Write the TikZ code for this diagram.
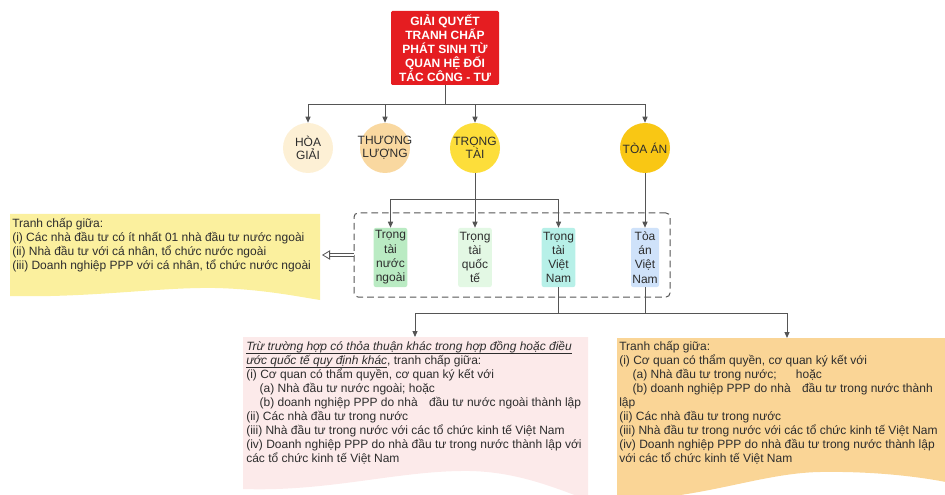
\documentclass[tikz,border=0pt]{standalone}
\usepackage{fontspec}
\setmainfont{Liberation Sans}
\usetikzlibrary{arrows.meta}
\definecolor{rootred}{RGB}{229,29,33}
\definecolor{hoacol}{RGB}{253,240,213}
\definecolor{thuongcol}{RGB}{249,216,160}
\definecolor{trongcol}{RGB}{253,222,58}
\definecolor{toacol}{RGB}{249,199,20}
\definecolor{tnncol}{RGB}{186,235,195}
\definecolor{tqtcol}{RGB}{227,248,228}
\definecolor{tvncol}{RGB}{183,240,232}
\definecolor{tavncol}{RGB}{207,226,250}
\definecolor{ydoccol}{RGB}{251,240,158}
\definecolor{pdoccol}{RGB}{252,234,234}
\definecolor{odoccol}{RGB}{250,213,150}
\definecolor{linecol}{RGB}{85,85,85}
\definecolor{txtcol}{RGB}{45,45,45}
\newcommand{\ulit}[1]{\setbox0\hbox{\textit{#1}}\rlap{\rule[-2.3pt]{\wd0}{0.5pt}}\box0}
\tikzset{
    conn/.style={draw=linecol, line width=0.75pt},
    arr/.style={conn, -{Triangle[length=4.5pt,width=3.8pt]}},
    dblarr/.style={draw=linecol, line width=0.6pt, double=white, double distance=1.6pt, -{Triangle[open,fill=white,length=6pt,width=7pt]}},
    rootbox/.style={rectangle, rounded corners=1pt, fill=rootred, text=white, align=center, inner sep=0pt, minimum width=81pt, minimum height=55.5pt, font=\bfseries\fontsize{9}{10.4}\selectfont},
    circ/.style={circle, minimum size=37.5pt, inner sep=0pt},
    clbl/.style={align=center, inner sep=0pt, font=\fontsize{9}{10}\selectfont, text=txtcol},
    tbox/.style={rectangle, rounded corners=1.5pt, inner sep=1pt, minimum height=44.25pt, align=center, font=\fontsize{9}{10.7}\selectfont, text=txtcol},
    grpbox/.style={draw=linecol, line width=0.75pt, dash pattern=on 5pt off 3pt, rounded corners=3pt, minimum width=237pt, minimum height=63pt, inner sep=0pt},
    doctext/.style={anchor=north west, align=left, inner sep=0pt, font=\fontsize{9}{10.5}\selectfont, text=txtcol},
}
\begin{document}
\begin{tikzpicture}[x=0.75pt,y=0.75pt,yscale=-1,xscale=1]
    \useasboundingbox (0,0) rectangle (945,495);
    \clip (0,0) rectangle (945,495);
    \fill[ydoccol] (10,214) -- (320,214) -- (320,300) .. controls (295,296) and (260,289) .. (215,288) .. controls (160,287) and (90,298) .. (10,296) -- cycle ;
    \fill[pdoccol] (243,337) -- (588,337) -- (588,500) .. controls (560,490) and (520,472) .. (470,471) .. controls (400,470) and (330,492) .. (243,489) -- cycle ;
    \fill[odoccol] (617,338) -- (960,338) -- (960,485) .. controls (930,478) and (880,471) .. (820,472) .. controls (760,473) and (700,500) .. (617,500) -- cycle ;
    \node[rootbox] (root) at (445,48) {GIẢI QUYẾT\\TRANH CHẤP\\PHÁT SINH TỪ\\QUAN HỆ ĐỐI\\TÁC CÔNG - TƯ};
    \node[circ, fill=hoacol, label={[clbl]center:HÒA\\GIẢI}] (hoa) at (308,148) {};
    \node[circ, fill=thuongcol, label={[clbl]center:THƯƠNG\\LƯỢNG}] (thuong) at (385,148) {};
    \node[circ, fill=trongcol, label={[clbl]center:TRỌNG\\TÀI}] (trong) at (475,148) {};
    \node[circ, fill=toacol, label={[clbl]center:TÒA ÁN}] (toa) at (645,148) {};
    \node[grpbox] (grp) at (512,255) {};
    \node[tbox, fill=tnncol] (tnn) at (390.5,257.5) {Trọng\\tài\\nước\\ngoài};
    \node[tbox, fill=tqtcol] (tqt) at (475,257.5) {Trọng\\tài\\quốc\\tế};
    \node[tbox, fill=tvncol] (tvn) at (558.5,257.5) {Trọng\\tài\\Việt\\Nam};
    \node[tbox, fill=tavncol] (tavn) at (645,257.5) {Tòa\\án\\Việt\\Nam};
    \coordinate (bus1) at (445,105);
    \coordinate (bus2) at (475,200);
    \coordinate (bus3) at (558.5,313);
    \coordinate (ydocR) at (322,255);
    \coordinate (pdocT) at (415,337);
    \coordinate (odocT) at (787,338);
    \draw[conn] (root) -- (bus1);
    \draw[arr] (bus1) -| (hoa);
    \draw[arr] (bus1) -| (thuong);
    \draw[arr] (bus1) -| (trong);
    \draw[arr] (bus1) -| (toa);
    \draw[conn] (trong) -- (bus2);
    \draw[arr] (bus2) -| (tnn);
    \draw[arr] (bus2) -- (tqt);
    \draw[arr] (bus2) -| (tvn);
    \draw[arr] (toa) -- (tavn);
    \draw[dblarr] (grp.west |- ydocR) -- (ydocR);
    \draw[conn] (tvn) -- (bus3);
    \draw[conn] (tavn) -- (tavn |- bus3);
    \draw[arr] (bus3) -| (pdocT);
    \draw[arr] (bus3) -| (odocT);
    \node[doctext] (ytext) at (12,218.5) {Tranh chấp giữa:\\(i) Các nhà đầu tư có ít nhất 01 nhà đầu tư nước ngoài\\(ii) Nhà đầu tư với cá nhân, tổ chức nước ngoài\\(iii) Doanh nghiệp PPP với cá nhân, tổ chức nước ngoài};
    \node[doctext] (ptext) at (246,341.5) {\ulit{Trừ trường hợp có thỏa thuận khác trong hợp đồng hoặc điều}\\\ulit{ước quốc tế quy định khác}, tranh chấp giữa:\\(i) Cơ quan có thẩm quyền, cơ quan ký kết với\\\hspace*{10pt}(a) Nhà đầu tư nước ngoài; hoặc\\\hspace*{10pt}(b) doanh nghiệp PPP do nhà\hspace{6pt} đầu tư nước ngoài thành lập\\(ii) Các nhà đầu tư trong nước\\(iii) Nhà đầu tư trong nước với các tổ chức kinh tế Việt Nam\\(iv) Doanh nghiệp PPP do nhà đầu tư trong nước thành lập với\\các tổ chức kinh tế Việt Nam};
    \node[doctext] (otext) at (619,341.5) {Tranh chấp giữa:\\(i) Cơ quan có thẩm quyền, cơ quan ký kết với\\\hspace*{10pt}(a) Nhà đầu tư trong nước;\hspace{12pt} hoặc\\\hspace*{10pt}(b) doanh nghiệp PPP do nhà\hspace{6pt} đầu tư trong nước thành\\lập\\(ii) Các nhà đầu tư trong nước\\(iii) Nhà đầu tư trong nước với các tổ chức kinh tế Việt Nam\\(iv) Doanh nghiệp PPP do nhà đầu tư trong nước thành lập\\với các tổ chức kinh tế Việt Nam};
\end{tikzpicture}
\end{document}
